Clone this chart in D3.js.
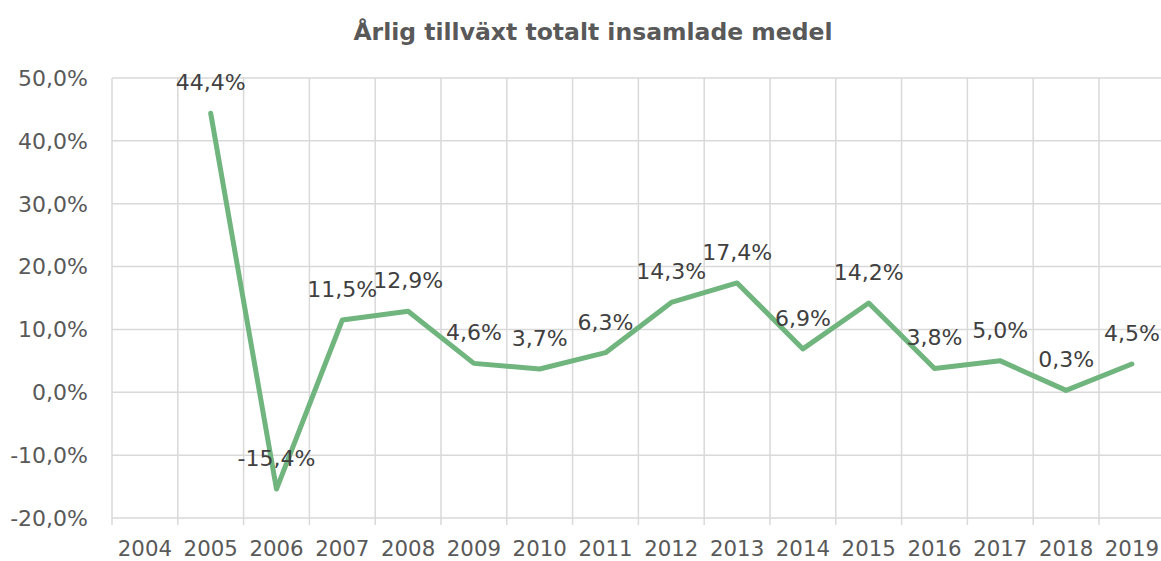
<!DOCTYPE html>
<html>
<head>
<meta charset="utf-8">
<script src="https://cdn.jsdelivr.net/npm/d3@7"></script>
<style>
  body { margin: 0; background: #fff; }
  text { font-family: "DejaVu Sans", Verdana, sans-serif; fill: #595959; }
</style>
</head>
<body>
<div id="chart"></div>
<script>
// data
var years = ["2004", "2005", "2006", "2007", "2008", "2009", "2010", "2011",
             "2012", "2013", "2014", "2015", "2016", "2017", "2018", "2019"];
var growth = [null, 44.4, -15.4, 11.5, 12.9, 4.6, 3.7, 6.3,
              14.3, 17.4, 6.9, 14.2, 3.8, 5.0, 0.3, 4.5];
var yTicks = [-20, -10, 0, 10, 20, 30, 40, 50];

var width = 1161, height = 561;
var fmt = function(v) { return v.toFixed(1).replace(".", ",") + "%"; };

var svg = d3.select("#chart")
    .append("svg")
    .attr("width", width)
    .attr("height", height);

// scales
var x = d3.scaleBand()
    .domain(years)
    .range([112, 112 + 16 * 65.8])
    .padding(0);

var y = d3.scaleLinear()
    .domain([-20, 50])
    .range([518, 78]);

// title
svg.append("text")
    .attr("x", 593)
    .attr("y", 40)
    .attr("text-anchor", "middle")
    .style("font-family", "Tahoma, 'DejaVu Sans', sans-serif")
    .style("font-weight", "bold")
    .style("font-size", "23.5px")
    .text("Årlig tillväxt totalt insamlade medel");

// horizontal grid lines
svg.append("g")
    .selectAll("line")
    .data(yTicks)
    .enter()
    .append("line")
        .attr("x1", 112)
        .attr("x2", width)
        .attr("y1", function(d) { return y(d); })
        .attr("y2", function(d) { return y(d); })
        .attr("stroke", "#d9d9d9")
        .attr("stroke-width", 1.5);

// vertical grid lines (category boundaries, running down past the axis as ticks)
svg.append("g")
    .selectAll("line")
    .data(years)
    .enter()
    .append("line")
        .attr("x1", function(d) { return x(d); })
        .attr("x2", function(d) { return x(d); })
        .attr("y1", y(50))
        .attr("y2", y(-20) + 7)
        .attr("stroke", "#d9d9d9")
        .attr("stroke-width", 1.5);

// y tick labels
svg.append("g")
    .selectAll("text")
    .data(yTicks)
    .enter()
    .append("text")
        .attr("x", 88)
        .attr("y", function(d) { return y(d); })
        .attr("dy", "0.36em")
        .attr("text-anchor", "end")
        .style("font-size", "22px")
        .text(function(d) { return fmt(d); });

// x tick labels
svg.append("g")
    .selectAll("text")
    .data(years)
    .enter()
    .append("text")
        .attr("x", function(d) { return x(d) + x.bandwidth() / 2; })
        .attr("y", 548)
        .attr("dy", "0.36em")
        .attr("text-anchor", "middle")
        .style("font-size", "21.3px")
        .text(function(d) { return d; });

var pts = years.map(function(d, i) { return { year: d, v: growth[i] }; })
    .filter(function(d) { return d.v !== null; });

// line
var line = d3.line()
    .x(function(d) { return x(d.year) + x.bandwidth() / 2; })
    .y(function(d) { return y(d.v); });

svg.append("path")
    .datum(pts)
    .attr("d", line)
    .attr("fill", "none")
    .attr("stroke", "#70b47e")
    .attr("stroke-width", 5)
    .attr("stroke-linejoin", "round")
    .attr("stroke-linecap", "round");

// data labels above the points
svg.append("g")
    .selectAll("text")
    .data(pts)
    .enter()
    .append("text")
        .attr("x", function(d) { return x(d.year) + x.bandwidth() / 2; })
        .attr("y", function(d) { return y(d.v) - 31; })
        .attr("dy", "0.36em")
        .attr("text-anchor", "middle")
        .style("font-size", "22px")
        .style("fill", "#404040")
        .text(function(d) { return fmt(d.v); });
</script>
</body>
</html>
